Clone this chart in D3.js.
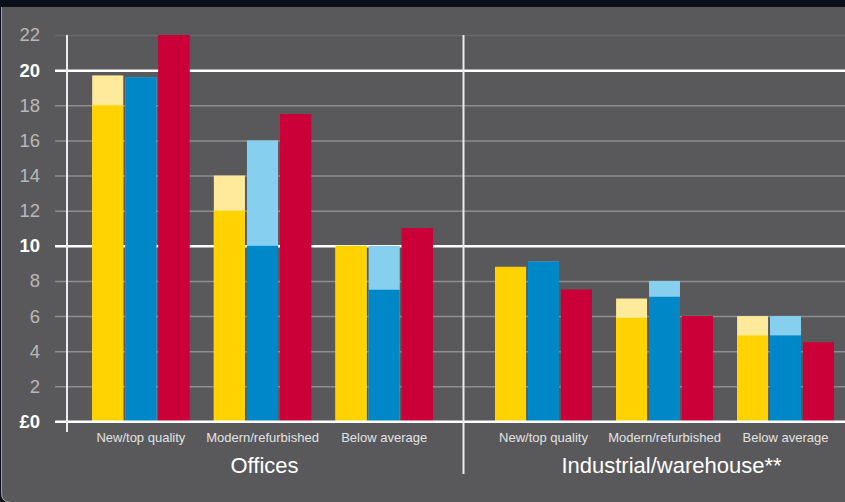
<!DOCTYPE html>
<html>
<head>
<meta charset="utf-8">
<script src="https://cdn.jsdelivr.net/npm/d3@7"></script>
<style>
  * { margin: 0; padding: 0; box-sizing: border-box; }
  body { background: #0b0f19; width: 845px; height: 502px; overflow: hidden; }
  svg { display: block; font-family: "Liberation Sans", Arial, Helvetica, sans-serif; }
</style>
</head>
<body>
<svg id="chart"></svg>
<script>
// ===Data===
const panels = ["Offices", "Industrial/warehouse**"];
const categories = ["New/top quality", "Modern/refurbished", "Below average"];
const series = ["a", "b", "c"];
const yTicks = [0, 2, 4, 6, 8, 10, 12, 14, 16, 18, 20, 22];
// six values each: 3 office categories, then 3 industrial
const yellowLow = [18, 12, 10, 8.8, 5.9, 4.9];
const yellowHigh = [19.7, 14, 10, 8.8, 7, 6];
const blueLow = [19.6, 10, 7.5, 9.1, 7.1, 4.9];
const blueHigh = [19.6, 16, 10, 9.1, 8, 6];
const redLow = [22, 17.5, 11, 7.5, 6, 4.5];
const redHigh = [22, 17.5, 11, 7.5, 6, 4.5];

const width = 845;
const height = 502;

const svg = d3.select("#chart")
  .attr("width", width)
  .attr("height", height)
  .attr("viewBox", [0, 0, width, height]);

// panel background, square top, rounded bottom-left
svg.append("path")
  .attr("d", `M1,7 H${width} V${height} H10 Q1,${height} 1,${height - 9} Z`)
  .attr("fill", "#59595b");
svg.append("path")
  .attr("d", `M1.5,7 V${height - 9} Q1.5,${height} 10,${height}`)
  .attr("fill", "none")
  .attr("stroke", "#a0a0a0")
  .attr("stroke-width", 1);

const y = d3.scaleLinear().domain([0, 22]).range([421.5, 35]);

// gridlines + y labels
const bold = new Set([0, 10, 20]);
svg.append("g")
  .attr("transform", "translate(55,0)")
  .call(d3.axisLeft(y).tickValues(yTicks).tickSize(-(width - 55)).tickPadding(15)
    .tickFormat((d) => (d === 0 ? "£0" : d)))
  .call((g) => g.select(".domain").remove())
  .call((g) => g.selectAll(".tick line")
    .attr("stroke", (d) => (d === 22 ? "#6a6a6c" : bold.has(d) ? "#ffffff" : "#8e8e8e"))
    .attr("stroke-width", (d) => (d === 10 || d === 20 ? 2.5 : d === 0 ? 2 : 1.5)))
  .call((g) => g.selectAll(".tick text")
    .attr("fill", (d) => (bold.has(d) ? "#ffffff" : "#b8b8b8"))
    .attr("font-weight", (d) => (bold.has(d) ? "bold" : "normal"))
    .attr("font-size", 18.5)
    .attr("font-family", "'Liberation Sans', Arial, sans-serif"));

// bars
const colors = {
  a: ["#ffe99b", "#ffd200"],
  b: ["#87cfef", "#0087c8"],
  c: ["#cc0038", "#cc0038"],
};
const lows = { a: yellowLow, b: blueLow, c: redLow };
const highs = { a: yellowHigh, b: blueHigh, c: redHigh };

const panelRanges = [[80, 445], [483, 846]];

panels.forEach((panel, p) => {
  const x = d3.scaleBand()
    .domain(categories)
    .range(panelRanges[p])
    .paddingInner(0.2)
    .paddingOuter(0.1);
  const xs = d3.scaleBand()
    .domain(series)
    .range([0, x.bandwidth()])
    .paddingInner(0.06);

  const g = svg.append("g");
  categories.forEach((cat, i) => {
    const idx = p * 3 + i;
    series.forEach((s) => {
      const bx = x(cat) + xs(s);
      g.append("rect")
        .attr("x", bx).attr("width", xs.bandwidth())
        .attr("y", y(highs[s][idx]))
        .attr("height", y(0) - y(highs[s][idx]))
        .attr("fill", colors[s][0]);
      g.append("rect")
        .attr("x", bx).attr("width", xs.bandwidth())
        .attr("y", y(lows[s][idx]))
        .attr("height", y(0) - y(lows[s][idx]))
        .attr("fill", colors[s][1]);
    });
  });

  // category labels
  svg.append("g")
    .attr("transform", `translate(0,${y(0)})`)
    .call(d3.axisBottom(x).tickSize(0).tickPadding(11))
    .call((g) => g.select(".domain").remove())
    .call((g) => g.selectAll(".tick text")
      .attr("fill", "#e2e2e2")
      .attr("font-size", 13)
      .attr("font-family", "'Liberation Sans', Arial, sans-serif"));

  // panel title
  svg.append("text")
    .attr("x", (x.range()[0] + x.range()[1]) / 2 + (p === 0 ? 2 : 7))
    .attr("y", 473)
    .attr("text-anchor", "middle")
    .attr("fill", "#ffffff")
    .attr("font-size", 22)
    .text(panel);
});

// zero line on top of bars
svg.append("line")
  .attr("x1", 55).attr("x2", width)
  .attr("y1", y(0)).attr("y2", y(0))
  .attr("stroke", "#ffffff").attr("stroke-width", 2);

// y axis and panel divider
svg.append("line")
  .attr("x1", 67).attr("x2", 67)
  .attr("y1", y(22)).attr("y2", 432)
  .attr("stroke", "#ececec").attr("stroke-width", 2);
svg.append("line")
  .attr("x1", 463.5).attr("x2", 463.5)
  .attr("y1", y(22)).attr("y2", 474)
  .attr("stroke", "#ececec").attr("stroke-width", 2);
</script>
</body>
</html>
